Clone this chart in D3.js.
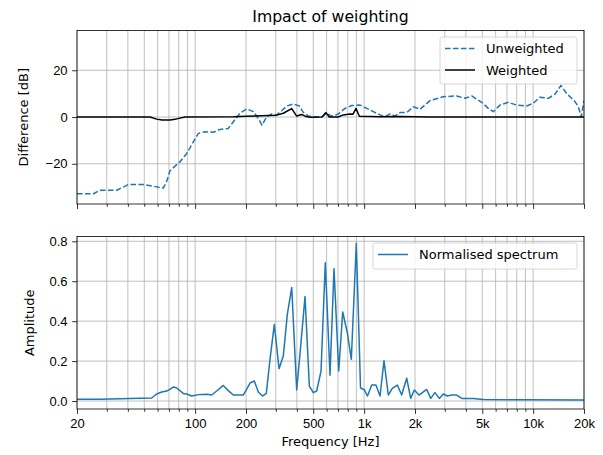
<!DOCTYPE html>
<html>
<head>
<meta charset="utf-8">
<script src="https://cdn.jsdelivr.net/npm/d3@7"></script>
<style>
  body { margin: 0; background: #fff; }
  svg { font-family: "DejaVu Sans", sans-serif; }
  .grid line { stroke: #b0b0b0; stroke-width: 0.8; }
  .axis path, .axis line { stroke: #000; stroke-width: 0.8; }
  .axis text { font-size: 13px; fill: #000; }
</style>
</head>
<body>
<div id="chart"></div>
<script>
// x axis ticks (Hz)
const majorTicks = [20, 100, 200, 500, 1000, 2000, 5000, 10000, 20000];
const majorLabels = ["20", "100", "200", "500", "1k", "2k", "5k", "10k", "20k"];
const minorTicks = [30, 40, 50, 60, 70, 80, 90, 300, 400, 600, 700, 800, 900,
  3000, 4000, 6000, 7000, 8000, 9000];

const diffTicks = [-20, 0, 20];
const ampTicks = [0, 0.2, 0.4, 0.6, 0.8];

// top panel: unweighted difference (dB)
const unweightedFreq = [20, 25, 27.4, 34.4, 40.2, 49.4, 56.6, 64.8, 67.9, 71, 81.4, 89.2, 97.6,
  104.5, 114.4, 128.1, 140.4, 157.1, 168.3, 184.3, 201.9, 220.9, 236.5, 248.7, 265.2, 283.9,
  303.9, 325.3, 348.3, 381.1, 413.5, 436.7, 467.5, 512.2, 561.1, 600.6, 643, 703.6, 770.8,
  844.4, 945.6, 1036, 1133, 1242, 1329, 1423, 1523, 1630, 1786, 1954, 2141, 2453, 2942,
  3531, 3953, 4331, 4963, 5431, 5812, 6369, 7131, 7993, 9161, 10024, 10984, 12300, 13474,
  14618, 15799, 17692, 18508, 19278, 20000];
const unweightedDb = [-32.8, -32.8, -31.3, -31.3, -28.9, -28.9, -29.6, -30.4, -27.5, -23, -19.1,
  -15.6, -10.6, -7, -6.3, -6.5, -5.3, -4.9, -2, 1.6, 3.5, 2.3, -0.6, -3.5, 0.1, 1.3,
  0.9, 2.7, 4.7, 5.6, 4.7, 2, 0.4, 0.1, 0.1, 1.6, 0.4, 1.3, 3.7,
  4.9, 5.1, 3.7, 2.3, 0.9, 0.1, 1.3, 0.4, 1.9, 1.9, 4.4, 3.3, 7, 8.7,
  9, 8, 9, 6.3, 3.7, 2.3, 5.1, 6.3, 5.1, 4.7, 5.9, 8.5, 8, 9.8,
  13.5, 10, 6.6, 4.4, 0.1, 7];

// top panel: weighted difference (dB)
const weightedFreq = [20, 54.1, 59.2, 63.7, 71, 77.8, 87.1, 168.3, 201.9, 303.9, 332.4, 372.9,
  399, 427.3, 453, 478.5, 563.4, 594.8, 622.2, 700.7, 753, 825, 859.4, 895.3, 936.4,
  1242, 1630, 2453, 20000];
const weightedDb = [0, 0, -0.9, -1.3, -1.3, -0.8, 0, 0.1, 0.3, 0.8, 1.6, 3.6,
  0.4, 1.1, 0.2, -0.1, 0, 1.9, 0, 0, 0.9, 1.3, 1.2, 3.7, 0.3,
  0.1, 0.2, 0, 0];

// bottom panel: normalised spectrum
const spectrumFreq = [20, 27.4, 41.2, 55.3, 59.2, 63.4, 67.9, 74.3, 77.8, 85.1, 89.1, 95.4,
  104.4, 117.1, 125.3, 134.2, 146.8, 157.2, 168.2, 192.7, 201.9, 211.2, 224, 236.5, 250.5,
  263.8, 277.4, 294.2, 313.6, 332.4, 351.2, 372.9, 399, 421.4, 447, 474, 500.2, 524, 555.8,
  589.2, 628.2, 663.4, 707.4, 747, 795.2, 840, 899.2, 952, 998.4, 1047, 1109, 1175, 1242,
  1311, 1390, 1468, 1572, 1668, 1786, 1886, 1981, 2112, 2346, 2477, 2626, 2786, 2942,
  3106, 3298, 3531, 3780, 4426, 5075, 8364, 20000];
const spectrumAmp = [0.009, 0.009, 0.012, 0.015, 0.035, 0.045, 0.05, 0.07, 0.065, 0.038, 0.035, 0.025,
  0.032, 0.034, 0.03, 0.05, 0.078, 0.052, 0.03, 0.03, 0.06, 0.09, 0.1, 0.045, 0.025,
  0.038, 0.209, 0.384, 0.162, 0.225, 0.434, 0.568, 0.055, 0.276, 0.523, 0.075, 0.042, 0.05, 0.15,
  0.693, 0.129, 0.663, 0.15, 0.446, 0.342, 0.209, 0.79, 0.065, 0.058, 0.025, 0.08, 0.08, 0.025,
  0.202, 0.03, 0.063, 0.08, 0.03, 0.114, 0.013, 0.055, 0.03, 0.058, 0.013, 0.042, 0.013, 0.035,
  0.025, 0.03, 0.03, 0.013, 0.012, 0.008, 0.006, 0.005];

const blue = "#1f77b4";
const width = 603, height = 455;
const plotLeft = 77, plotRight = 584;

const svg = d3.select("#chart").append("svg")
  .attr("width", width)
  .attr("height", height);

const x = d3.scaleLog()
  .domain([20, 20000])
  .range([plotLeft, plotRight]);

function drawPanel(opts) {
  const y = d3.scaleLinear()
    .domain(opts.yDomain)
    .range([opts.bottom, opts.top]);

  const g = svg.append("g");

  g.append("clipPath")
    .attr("id", opts.id)
    .append("rect")
    .attr("x", plotLeft)
    .attr("y", opts.top)
    .attr("width", plotRight - plotLeft)
    .attr("height", opts.bottom - opts.top);

  // grid (major + minor on x, major on y)
  const grid = g.append("g").attr("class", "grid");
  grid.selectAll(".vx")
    .data(majorTicks.concat(minorTicks))
    .enter().append("line")
    .attr("x1", d => x(d)).attr("x2", d => x(d))
    .attr("y1", opts.top).attr("y2", opts.bottom);
  grid.selectAll(".hy")
    .data(opts.yTicks)
    .enter().append("line")
    .attr("x1", plotLeft).attr("x2", plotRight)
    .attr("y1", d => y(d)).attr("y2", d => y(d));

  // series
  opts.series.forEach(s => {
    const line = d3.line()
      .x((d, i) => x(s.xs[i]))
      .y(d => y(d));
    g.append("path")
      .attr("clip-path", `url(#${opts.id})`)
      .attr("d", line(s.ys))
      .attr("fill", "none")
      .attr("stroke", s.color)
      .attr("stroke-width", 1.5)
      .attr("stroke-linejoin", "round")
      .attr("stroke-dasharray", s.dash || null);
  });

  // frame
  g.append("rect")
    .attr("x", plotLeft).attr("y", opts.top)
    .attr("width", plotRight - plotLeft).attr("height", opts.bottom - opts.top)
    .attr("fill", "none").attr("stroke", "#000").attr("stroke-width", 0.8);

  // x axis
  const xAxis = d3.axisBottom(x)
    .tickValues(majorTicks)
    .tickSize(4.9)
    .tickPadding(4.5)
    .tickFormat((d, i) => opts.showX ? majorLabels[i] : "");
  const xg = g.append("g")
    .attr("class", "axis")
    .attr("transform", `translate(0,${opts.bottom})`)
    .call(xAxis);
  xg.select(".domain").remove();
  const xMinor = d3.axisBottom(x)
    .tickValues(minorTicks)
    .tickSize(2.8)
    .tickFormat("");
  g.append("g")
    .attr("class", "axis")
    .attr("transform", `translate(0,${opts.bottom})`)
    .call(xMinor)
    .select(".domain").remove();

  // y axis
  const yAxis = d3.axisLeft(y)
    .tickValues(opts.yTicks)
    .tickSize(4.9)
    .tickPadding(4.5)
    .tickFormat(opts.yFormat);
  const yg = g.append("g")
    .attr("class", "axis")
    .attr("transform", `translate(${plotLeft},0)`)
    .call(yAxis);
  yg.select(".domain").remove();

  // y label
  g.append("text")
    .attr("transform", `translate(${opts.yLabelX},${(opts.top + opts.bottom) / 2}) rotate(-90)`)
    .attr("text-anchor", "middle")
    .attr("font-size", 13)
    .text(opts.yLabel);

  // legend
  const lg = g.append("g");
  const lb = opts.legend;
  lg.append("rect")
    .attr("x", lb.x).attr("y", lb.y)
    .attr("width", lb.w).attr("height", lb.h)
    .attr("rx", 2.5)
    .attr("fill", "#fff").attr("fill-opacity", 0.8)
    .attr("stroke", "#cccccc").attr("stroke-width", 0.8);
  opts.series.forEach((s, i) => {
    const ly = lb.y + 11.5 + i * 21.5;
    lg.append("line")
      .attr("x1", lb.x + 5).attr("x2", lb.x + 35)
      .attr("y1", ly).attr("y2", ly)
      .attr("stroke", s.color).attr("stroke-width", 1.5)
      .attr("stroke-dasharray", s.dash || null);
    lg.append("text")
      .attr("x", lb.x + 46).attr("y", ly)
      .attr("dy", "0.36em")
      .attr("font-size", 13)
      .text(s.name);
  });
}

drawPanel({
  id: "clipTop",
  top: 30.5, bottom: 204,
  yDomain: [-37.2, 37],
  yTicks: diffTicks,
  yFormat: d => d < 0 ? "\u2212" + Math.abs(d) : d,
  yLabel: "Difference [dB]",
  yLabelX: 28,
  showX: false,
  series: [
    { name: "Unweighted", xs: unweightedFreq, ys: unweightedDb, color: blue, dash: "5.55,2.4" },
    { name: "Weighted", xs: weightedFreq, ys: weightedDb, color: "#000" }
  ],
  legend: { x: 440, y: 37, w: 137, h: 47 }
});

drawPanel({
  id: "clipBottom",
  top: 236.5, bottom: 409,
  yDomain: [-0.04, 0.824],
  yTicks: ampTicks,
  yFormat: d3.format(".1f"),
  yLabel: "Amplitude",
  yLabelX: 34,
  showX: true,
  series: [
    { name: "Normalised spectrum", xs: spectrumFreq, ys: spectrumAmp, color: blue }
  ],
  legend: { x: 373, y: 243, w: 204, h: 26 }
});

// title and x label
svg.append("text")
  .attr("x", (plotLeft + plotRight) / 2)
  .attr("y", 22)
  .attr("text-anchor", "middle")
  .attr("font-size", 15.7)
  .text("Impact of weighting");

svg.append("text")
  .attr("x", (plotLeft + plotRight) / 2)
  .attr("y", 446)
  .attr("text-anchor", "middle")
  .attr("font-size", 13)
  .text("Frequency [Hz]");
</script>
</body>
</html>
